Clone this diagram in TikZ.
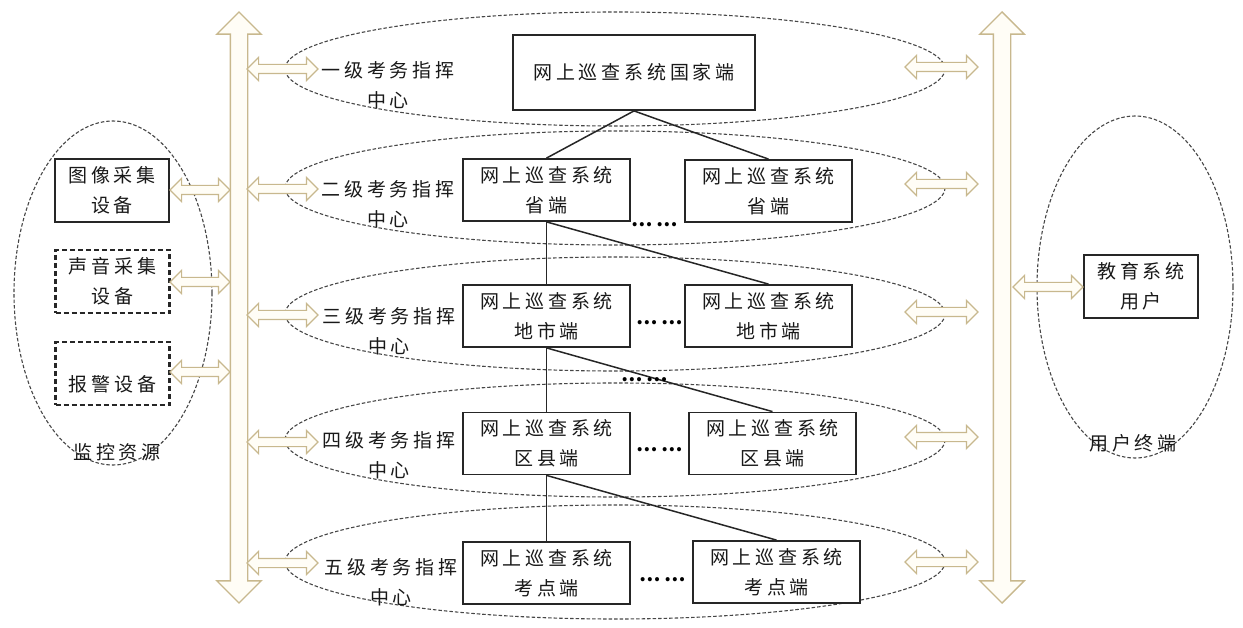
\documentclass[tikz,border=0pt]{standalone}
\usepackage{fontspec}
\setmainfont{Noto Sans CJK SC}[LetterSpace=20]
\usepackage{tikz}
\usetikzlibrary{shapes, positioning}
\definecolor{busline}{RGB}{200,184,142}
\definecolor{busfill}{RGB}{255,253,246}
\definecolor{dashline}{RGB}{70,70,70}
\tikzstyle{tier} = [ellipse, draw=dashline, line width=1.1pt, dash pattern=on 3.5pt off 2pt, minimum width=660pt, minimum height=114pt]
\tikzstyle{region} = [ellipse, draw=dashline, line width=1.1pt, dash pattern=on 3.5pt off 2pt]
\tikzstyle{system} = [rectangle, draw=black!85, line width=1.8pt, fill=white, minimum width=167pt, minimum height=62pt,
                    align=center, inner sep=0]
\tikzstyle{device} = [rectangle, draw=black!85, line width=2.2pt, fill=white, minimum width=114pt, minimum height=63pt,
                    align=center, inner sep=0]
\tikzstyle{dashedbox} = [dash pattern=on 5pt off 3pt]
\tikzstyle{bus} = [double arrow, draw=busline, fill=busfill, line width=1.4pt, rotate=90, inner sep=0, inner ysep=8pt,
                    minimum height=591pt, minimum width=43pt, double arrow head extend=13.5pt]
\tikzstyle{link} = [double arrow, draw=busline, fill=busfill, line width=1.2pt, inner sep=0, inner ysep=4pt,
                    minimum width=22pt, double arrow head extend=7pt]
\tikzstyle{caption} = [align=center, inner sep=0]
\tikzstyle{tree} = [draw=black!85, line width=1.5pt]
\tikzstyle{more} = [font=\fontsize{19}{30}\selectfont\bfseries, text=black, inner sep=0]

\begin{document}
\begin{tikzpicture}[x=1pt, y=-1pt, font=\fontsize{19}{30}\selectfont, text=black!90]
				\useasboundingbox (0, 0) rectangle (1243, 628);

				\node (L1) [tier] at (615, 69) {};
				\node (L2) [tier] at (615, 188) {};
				\node (L3) [tier] at (615, 314) {};
				\node (L4) [tier] at (615, 440) {};
				\node (L5) [tier] at (615, 562) {};

				\node (Monitor) [region, minimum width=198pt, minimum height=344pt] at (113, 293) {};
				\node (Terminal) [region, minimum width=196pt, minimum height=342pt] at (1135, 287) {};

				\node (BusL) [bus] at (239, 307.5) {};
				\node (BusR) [bus] at (1002, 307.5) {};

				\node (L1In) [link, minimum height=71pt] at (282.5, 69) {};
				\node (L2In) [link, minimum height=71pt] at (282.5, 189) {};
				\node (L3In) [link, minimum height=71pt] at (282.5, 315) {};
				\node (L4In) [link, minimum height=71pt] at (282.5, 442) {};
				\node (L5In) [link, minimum height=71pt] at (282.5, 563) {};
				\node (L1Out) [link, minimum height=73pt] at (941.5, 67) {};
				\node (L2Out) [link, minimum height=73pt] at (941.5, 184) {};
				\node (L3Out) [link, minimum height=73pt] at (941.5, 312) {};
				\node (L4Out) [link, minimum height=73pt] at (941.5, 437) {};
				\node (L5Out) [link, minimum height=73pt] at (941.5, 562) {};

				\node (C1) [caption] at (388, 85) {一级考务指挥\\中心};
				\node (C2) [caption] at (388, 204) {二级考务指挥\\中心};
				\node (C3) [caption] at (389, 331) {三级考务指挥\\中心};
				\node (C4) [caption] at (389, 455) {四级考务指挥\\中心};
				\node (C5) [caption] at (391, 582) {五级考务指挥\\中心};

				\node (Nation) [system, minimum width=242pt, minimum height=75pt] at (634, 72.5) {网上巡查系统国家端};
				\node (Prov1) [system] at (546.5, 190) {网上巡查系统\\省端};
				\node (Prov2) [system] at (768.5, 191) {网上巡查系统\\省端};
				\node (City1) [system] at (546.5, 316) {网上巡查系统\\地市端};
				\node (City2) [system] at (768.5, 316) {网上巡查系统\\地市端};
				\node (County1) [system] at (546.5, 443.5) {网上巡查系统\\区县端};
				\node (County2) [system] at (772.5, 443.5) {网上巡查系统\\区县端};
				\node (Site1) [system] at (546.5, 573) {网上巡查系统\\考点端};
				\node (Site2) [system] at (776.5, 572) {网上巡查系统\\考点端};

				\draw[tree] (Nation.south) -- (Prov1.north);
				\draw[tree] (Nation.south) -- (Prov2.north);
				\draw[tree] (Prov1.south) -- (City1.north);
				\draw[tree] (Prov1.south) -- (City2.north);
				\draw[tree] (City1.south) -- (County1.north);
				\draw[tree] (City1.south) -- (County2.north);
				\draw[tree] (County1.south) -- (Site1.north);
				\draw[tree] (County1.south) -- (Site2.north);

				\node (Dots2) [more] at (655, 225) {……};
				\node (Dots3) [more] at (660, 323) {……};
				\node (Dots34) [more] at (645, 380) {……};
				\node (Dots4) [more] at (660, 450) {……};
				\node (Dots5) [more] at (663, 580) {……};

				\node (Image) [device] at (112, 190.5) {图像采集\\设备};
				\node (Sound) [device, dashedbox] at (112.5, 281.5) {声音采集\\设备};
				\node (Alarm) [device, dashedbox, text height=38pt, text depth=2pt] at (112.5, 373.5) {报警设备};
				\node (MonitorName) at (117, 452) {监控资源};
				\node (ImageLink) [link, minimum height=60pt] at (200, 190) {};
				\node (SoundLink) [link, minimum height=60pt] at (200, 282) {};
				\node (AlarmLink) [link, minimum height=60pt] at (200, 372) {};

				\node (EduUser) [device] at (1141, 286.5) {教育系统\\用户};
				\node (UserLink) [link, minimum height=70pt] at (1048, 287) {};
				\node (TerminalName) at (1133, 443) {用户终端};
			\end{tikzpicture}
\end{document}
